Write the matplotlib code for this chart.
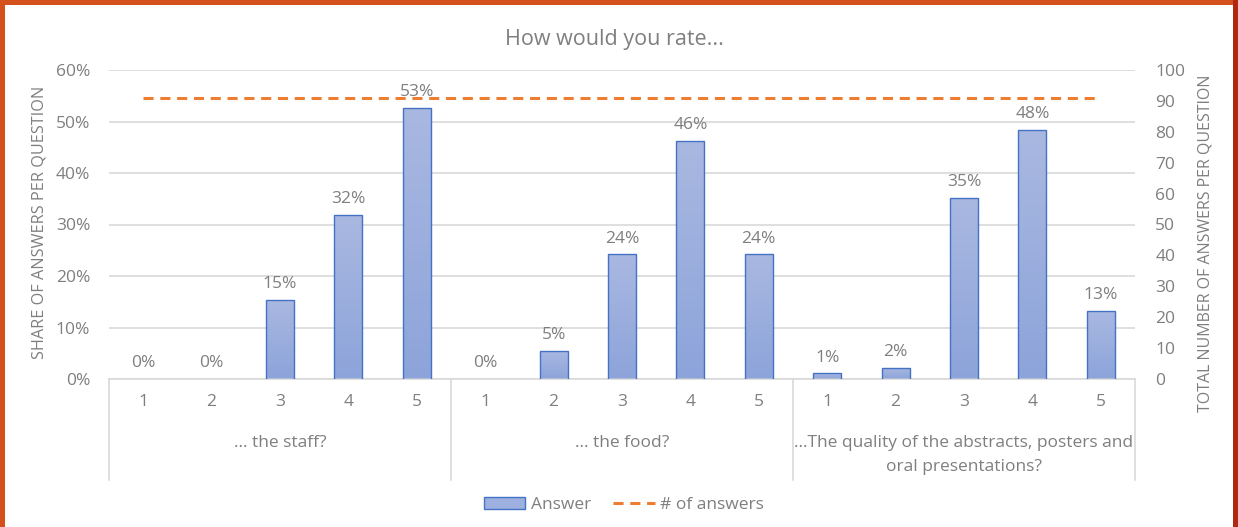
import matplotlib
matplotlib.use("Agg")
import matplotlib.pyplot as plt
import numpy as np
from matplotlib.patches import Rectangle, Patch
from matplotlib.lines import Line2D
from matplotlib.colors import LinearSegmentedColormap
import matplotlib.transforms as mtrans

plt.rcParams['font.family'] = ['Open Sans', 'DejaVu Sans']

# data
questions = ['... the staff?', '... the food?',
             '...The quality of the abstracts, posters and\noral presentations?']
ratings = ['1', '2', '3', '4', '5']
share_staff = [0.0, 0.0, 15.4, 31.9, 52.7]
share_food = [0.0, 5.49, 24.2, 46.2, 24.2]
share_quality = [1.1, 2.2, 35.2, 48.4, 13.2]
n_answers = [91] * 15

grey = '#7F7F7F'
gridc = '#D9D9D9'
blue_edge = '#4472C4'
orange = '#ED7D31'
fs = 12.5

share = share_staff + share_food + share_quality
x = np.arange(len(share))

W, H = 1238, 527
fig = plt.figure(figsize=(W / 100, H / 100), dpi=100)
fig.patch.set_facecolor('#D4501C')
fig.add_artist(Rectangle((5 / W, 0), 1228 / W, 522 / H, transform=fig.transFigure,
                         facecolor='white', edgecolor='none', zorder=0))
fig.add_artist(Rectangle((1233 / W, 0), 5 / W, 1, transform=fig.transFigure,
                         facecolor='#B02810', edgecolor='none', zorder=0))

ax = fig.add_axes([109 / W, 1 - 379 / H, 1026 / W, 309 / H])
ax.set_facecolor('none')
ax2 = ax.twinx()

# bars with a light vertical gradient
cmap = LinearSegmentedColormap.from_list('g', ['#8DA4DA', '#A9B8E1'])
grad = np.linspace(0, 1, 100).reshape(-1, 1)
bars = ax.bar(x, share, width=0.41, facecolor='none', edgecolor=blue_edge,
              linewidth=1.0, zorder=3)
for b in bars:
    if b.get_height() <= 0:
        b.set_visible(False)
        continue
    im = ax.imshow(grad, extent=[b.get_x(), b.get_x() + b.get_width(), 0, b.get_height()],
                   origin='lower', aspect='auto', cmap=cmap, zorder=2)
    im.set_clip_path(b)

for xi, v in zip(x, share):
    ax.annotate('%d%%' % round(v), (xi, v), xytext=(0, 5.5), textcoords='offset points',
                ha='center', va='bottom', color=grey, fontsize=fs)

ax.set_xlim(-0.5, 14.5)
ax.set_ylim(0, 60)
ax.set_yticks(np.arange(0, 61, 10))
ax.set_yticklabels(['%d%%' % v for v in range(0, 61, 10)])
ax.yaxis.grid(True, color=gridc, linewidth=1.2)
ax.set_axisbelow(True)
for s in ax.spines.values():
    s.set_visible(False)
ax.spines['bottom'].set_visible(True)
ax.spines['bottom'].set_color(gridc)
ax.spines['bottom'].set_linewidth(1.2)
ax.tick_params(axis='y', length=0, pad=13.5, labelcolor=grey, labelsize=fs)
ax.set_xticks(x)
ax.set_xticklabels(ratings * 3)
ax.tick_params(axis='x', length=0, pad=11, labelcolor=grey, labelsize=fs)

# group brackets under the axis
tr = mtrans.blended_transform_factory(ax.transData, ax.transAxes)
for sx in [-0.5, 4.5, 9.5, 14.5]:
    ax.plot([sx, sx], [0, -0.327], transform=tr, color=gridc, linewidth=1.2, clip_on=False)
for i, q in enumerate(questions):
    lines = q.split('\n')
    for j, t in enumerate(lines):
        ax.text(2 + 5 * i, -0.207 - 0.078 * j, t, transform=tr, ha='center', va='center',
                color=grey, fontsize=fs)

# number of answers on the secondary axis
ax2.plot(x, n_answers, color=orange, linewidth=2.2, linestyle=(0, (3.3, 2.2)), zorder=4)
ax2.set_ylim(0, 100)
ax2.set_yticks(np.arange(0, 101, 10))
ax2.tick_params(axis='y', length=0, pad=14.5, labelcolor=grey, labelsize=fs)
for lab in ax2.get_yticklabels():
    lab.set_horizontalalignment('left')
for s in ax2.spines.values():
    s.set_visible(False)

fig.text(614 / W, 1 - 39 / H, 'How would you rate...', ha='center', va='center',
         color=grey, fontsize=15.5)
fig.text(40 / W, 1 - 222 / H, 'SHARE OF ANSWERS PER QUESTION', rotation=90,
         ha='center', va='center', color=grey, fontsize=11.7)
fig.text(1205 / W, 1 - 243 / H, 'TOTAL NUMBER OF ANSWERS PER QUESTION', rotation=90,
         ha='center', va='center', color=grey, fontsize=11.5)

handles = [Patch(facecolor='#9DB0E0', edgecolor=blue_edge, linewidth=1.0),
           Line2D([], [], color=orange, linewidth=2.2, linestyle=(0, (3.3, 2.2)))]
fig.legend(handles, ['Answer', '# of answers'], loc='center',
           bbox_to_anchor=(624 / W, 1 - 505 / H), ncol=2, frameon=False,
           fontsize=fs, labelcolor=grey, handlelength=2.4, handleheight=0.65,
           handletextpad=0.3, columnspacing=1.3)

fig.savefig('out.png', dpi=100, facecolor=fig.get_facecolor())
